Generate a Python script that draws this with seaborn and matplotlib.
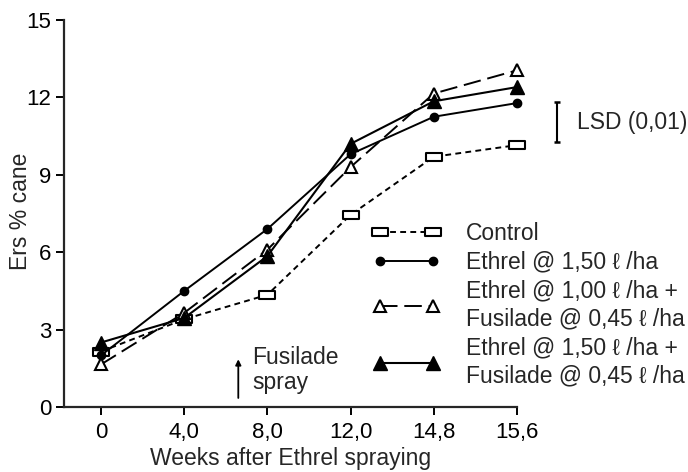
import matplotlib
matplotlib.use("Agg")
import matplotlib.pyplot as plt
import seaborn as sns
import pandas as pd
import numpy as np
from matplotlib.path import Path
from matplotlib.lines import Line2D

# ---- data ----
weeks = ["0", "4,0", "8,0", "12,0", "14,8", "15,6"]
control = [2.15, 3.4, 4.35, 7.45, 9.7, 10.15]
ethrel_150 = [2.0, 4.5, 6.9, 9.8, 11.25, 11.78]
ethrel_100_fus = [1.65, 3.65, 6.1, 9.3, 12.15, 13.05]
ethrel_150_fus = [2.5, 3.45, 5.85, 10.2, 11.85, 12.4]
series_labels = ["Control",
                 "Ethrel @ 1,50 ℓ /ha",
                 "Ethrel @ 1,00 ℓ /ha +\nFusilade @ 0,45 ℓ /ha",
                 "Ethrel @ 1,50 ℓ /ha +\nFusilade @ 0,45 ℓ /ha"]
lsd_low, lsd_high = 10.27, 11.82
y_ticks = [0, 3, 6, 9, 12, 15]

sns.set_theme(style="ticks")
plt.rcParams['font.family'] = ['Liberation Sans', 'DejaVu Sans']
plt.rcParams['axes.linewidth'] = 1.6

FS = 16.5
fig = plt.figure(figsize=(6.88, 4.72), dpi=100)
W, H = 688, 472
ax = fig.add_axes([64 / W, (H - 407) / H, (517 - 64) / W, (407 - 20) / H])

rect = Path([(-1, -0.55), (1, -0.55), (1, 0.55), (-1, 0.55), (-1, -0.55)],
            [Path.MOVETO, Path.LINETO, Path.LINETO, Path.LINETO, Path.CLOSEPOLY])

styles = [
    dict(marker=rect, markersize=11, mfc="white", mec="black", mew=1.5,
         linestyle=(0, (3, 2.2)), lw=1.4),
    dict(marker="o", markersize=6, mfc="black", mec="black", mew=1,
         linestyle="-", lw=1.4),
    dict(marker="^", markersize=9, mfc="white", mec="black", mew=1.5,
         linestyle=(0, (9, 3.5)), lw=1.4),
    dict(marker="^", markersize=9.5, mfc="black", mec="black", mew=1,
         linestyle="-", lw=1.5),
]
data_list = [control, ethrel_150, ethrel_100_fus, ethrel_150_fus]
x = np.arange(len(weeks))
handles = []
for vals, lab, st in zip(data_list, series_labels, styles):
    df = pd.DataFrame({"x": x, "y": vals})
    sns.lineplot(data=df, x="x", y="y", ax=ax, color="black",
                 marker=st["marker"], markersize=st["markersize"],
                 markerfacecolor=st["mfc"], markeredgecolor=st["mec"],
                 markeredgewidth=st["mew"], linestyle=st["linestyle"],
                 linewidth=st["lw"], legend=False, clip_on=False)
    handles.append(Line2D([], [], color="black", marker=st["marker"],
                          markersize=st["markersize"], markerfacecolor=st["mfc"],
                          markeredgecolor=st["mec"], markeredgewidth=st["mew"],
                          linestyle=st["linestyle"], linewidth=st["lw"]))

ax.set_xlim(-0.445, 5)
ax.set_ylim(0, 15)
ax.set_xticks(x)
ax.set_xticklabels(weeks)
ax.set_yticks(y_ticks)
ax.set_yticklabels([str(v) for v in y_ticks])
sns.despine(ax=ax)
ax.tick_params(axis="both", direction="out", length=6, width=1.4,
               labelsize=16, colors="black")
ax.tick_params(axis="x", pad=5)
ax.tick_params(axis="y", pad=3)
ax.set_xlabel("Weeks after Ethrel spraying", fontsize=FS, labelpad=3)
ax.set_ylabel("Ers % cane", fontsize=FS)
ax.yaxis.set_label_coords((32 - 64) / 453, 0.506)

leg = ax.legend(handles, series_labels, loc="upper left",
                bbox_to_anchor=(373 / W, (H - 222) / H),
                bbox_transform=fig.transFigure, frameon=False,
                numpoints=2, handlelength=2.93, handletextpad=1.13,
                labelspacing=0.25, fontsize=FS, borderpad=0,
                borderaxespad=0)
for t in leg.get_texts():
    t.set_linespacing(1.28)

# LSD bar
lsd_x = 5.48
ax.vlines(lsd_x, lsd_low, lsd_high, color="black", lw=1.5, clip_on=False)
ax.hlines([lsd_low, lsd_high], lsd_x - 0.04, lsd_x + 0.04, color="black",
          lw=1.8, clip_on=False)
ax.text(5.72, (lsd_low + lsd_high) / 2, "LSD (0,01)", fontsize=FS,
        va="center", ha="left", clip_on=False)

# Fusilade spray arrow
ax.annotate("", xy=(1.65, 1.85), xytext=(1.65, 0.35),
            arrowprops=dict(arrowstyle="-|>", color="black", lw=1.3,
                            mutation_scale=8, shrinkA=0, shrinkB=0))
ax.text(1.82, 1.42, "Fusilade\nspray", fontsize=FS, va="center",
        ha="left", linespacing=1.1)

fig.savefig("out.png", dpi=100)
